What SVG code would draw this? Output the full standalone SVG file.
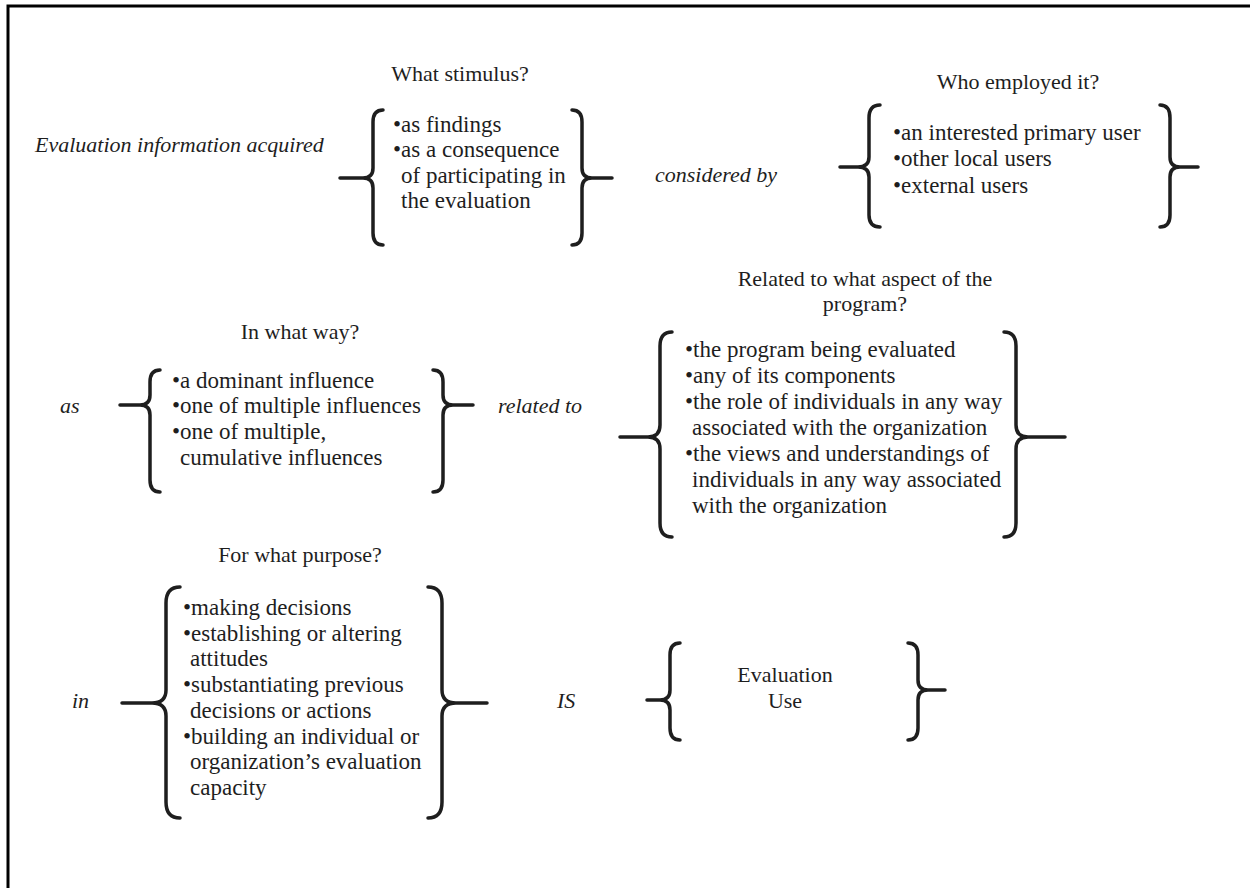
<svg xmlns="http://www.w3.org/2000/svg" width="1250" height="888" viewBox="0 0 1250 888">
<style>
.t{font-family:"Liberation Serif","DejaVu Serif",serif;font-size:23px;fill:#1e1e1e}
.h{text-anchor:middle;font-size:22px}
.i{font-style:italic;font-size:22px}
.b{fill:none;stroke:#1e1e1e;stroke-width:3.5;stroke-linecap:round;stroke-linejoin:round}
.frame{fill:none;stroke:#000;stroke-width:3}
</style>
<rect width="1250" height="888" fill="#fff"/>
<path class="frame" d="M8,900 L8,6 L1260,6"/>
<g id="labels">
<text class="t i" x="35" y="152">Evaluation information acquired</text>
<text class="t i" x="655" y="182">considered by</text>
<text class="t i" x="60" y="413">as</text>
<text class="t i" x="498" y="413">related to</text>
<text class="t i" x="72" y="708">in</text>
<text class="t i" x="557" y="708">IS</text>
</g>
<g id="stimulus">
<text class="t h" x="460" y="81">What stimulus?</text>
<path class="b" d="M383,110 Q373,110 373,122 L373,168 Q373,178 363,178 L340,178 M363,178 Q373,178 373,188 L373,233 Q373,245 383,245"/>
<text class="t" x="393" y="132">•as findings</text>
<text class="t" x="393" y="157">•as a consequence</text>
<text class="t" x="401" y="183">of participating in</text>
<text class="t" x="401" y="208">the evaluation</text>
<path class="b" d="M572,110 Q582,110 582,122 L582,168 Q582,178 592,178 L612,178 M592,178 Q582,178 582,188 L582,233 Q582,245 572,245"/>
</g>
<g id="who">
<text class="t h" x="1018" y="89">Who employed it?</text>
<path class="b" d="M880,105 Q869,105 869,118 L869,157 Q869,167 858,167 L840,167 M858,167 Q869,167 869,177 L869,215 Q869,227 880,227"/>
<text class="t" x="893" y="140">•an interested primary user</text>
<text class="t" x="893" y="166">•other local users</text>
<text class="t" x="893" y="193">•external users</text>
<path class="b" d="M1160,105 Q1170,105 1170,118 L1170,157 Q1170,167 1180,167 L1198,167 M1180,167 Q1170,167 1170,177 L1170,215 Q1170,227 1160,227"/>
</g>
<g id="way">
<text class="t h" x="300" y="339">In what way?</text>
<path class="b" d="M160,370 Q150,370 150,382 L150,395 Q150,405 140,405 L120,405 M140,405 Q150,405 150,415 L150,480 Q150,492 160,492"/>
<text class="t" x="172" y="388">•a dominant influence</text>
<text class="t" x="172" y="413">•one of multiple influences</text>
<text class="t" x="172" y="439">•one of multiple,</text>
<text class="t" x="180" y="465">cumulative influences</text>
<path class="b" d="M433,370 Q443,370 443,382 L443,395 Q443,405 453,405 L473,405 M453,405 Q443,405 443,415 L443,480 Q443,492 433,492"/>
</g>
<g id="aspect">
<text class="t h" x="865" y="286">Related to what aspect of the</text>
<text class="t h" x="865" y="311">program?</text>
<path class="b" d="M672,332 Q660,332 660,346 L660,425 Q660,437 648,437 L620,437 M648,437 Q660,437 660,449 L660,523 Q660,537 672,537"/>
<text class="t" x="685" y="357">•the program being evaluated</text>
<text class="t" x="685" y="383">•any of its components</text>
<text class="t" x="685" y="409">•the role of individuals in any way</text>
<text class="t" x="692" y="435">associated with the organization</text>
<text class="t" x="685" y="461">•the views and understandings of</text>
<text class="t" x="692" y="487">individuals in any way associated</text>
<text class="t" x="692" y="513">with the organization</text>
<path class="b" d="M1004,332 Q1016,332 1016,346 L1016,425 Q1016,437 1028,437 L1065,437 M1028,437 Q1016,437 1016,449 L1016,523 Q1016,537 1004,537"/>
</g>
<g id="purpose">
<text class="t h" x="300" y="562">For what purpose?</text>
<path class="b" d="M180,587 Q166,587 166,603 L166,690 Q166,703 152,703 L122,703 M152,703 Q166,703 166,716 L166,802 Q166,818 180,818"/>
<text class="t" x="183" y="615">•making decisions</text>
<text class="t" x="183" y="641">•establishing or altering</text>
<text class="t" x="190" y="666">attitudes</text>
<text class="t" x="183" y="692">•substantiating previous</text>
<text class="t" x="190" y="718">decisions or actions</text>
<text class="t" x="183" y="744">•building an individual or</text>
<text class="t" x="190" y="769">organization’s evaluation</text>
<text class="t" x="190" y="795">capacity</text>
<path class="b" d="M428,587 Q442,587 442,603 L442,690 Q442,703 456,703 L487,703 M456,703 Q442,703 442,716 L442,802 Q442,818 428,818"/>
</g>
<g id="use">
<path class="b" d="M680,643 Q670,643 670,655 L670,690 Q670,700 660,700 L647,700 M660,700 Q670,700 670,710 L670,728 Q670,740 680,740"/>
<text class="t h" x="785" y="682">Evaluation</text>
<text class="t h" x="785" y="708">Use</text>
<path class="b" d="M908,643 Q918,643 918,655 L918,680 Q918,690 928,690 L945,690 M928,690 Q918,690 918,700 L918,728 Q918,740 908,740"/>
</g>
</svg>
